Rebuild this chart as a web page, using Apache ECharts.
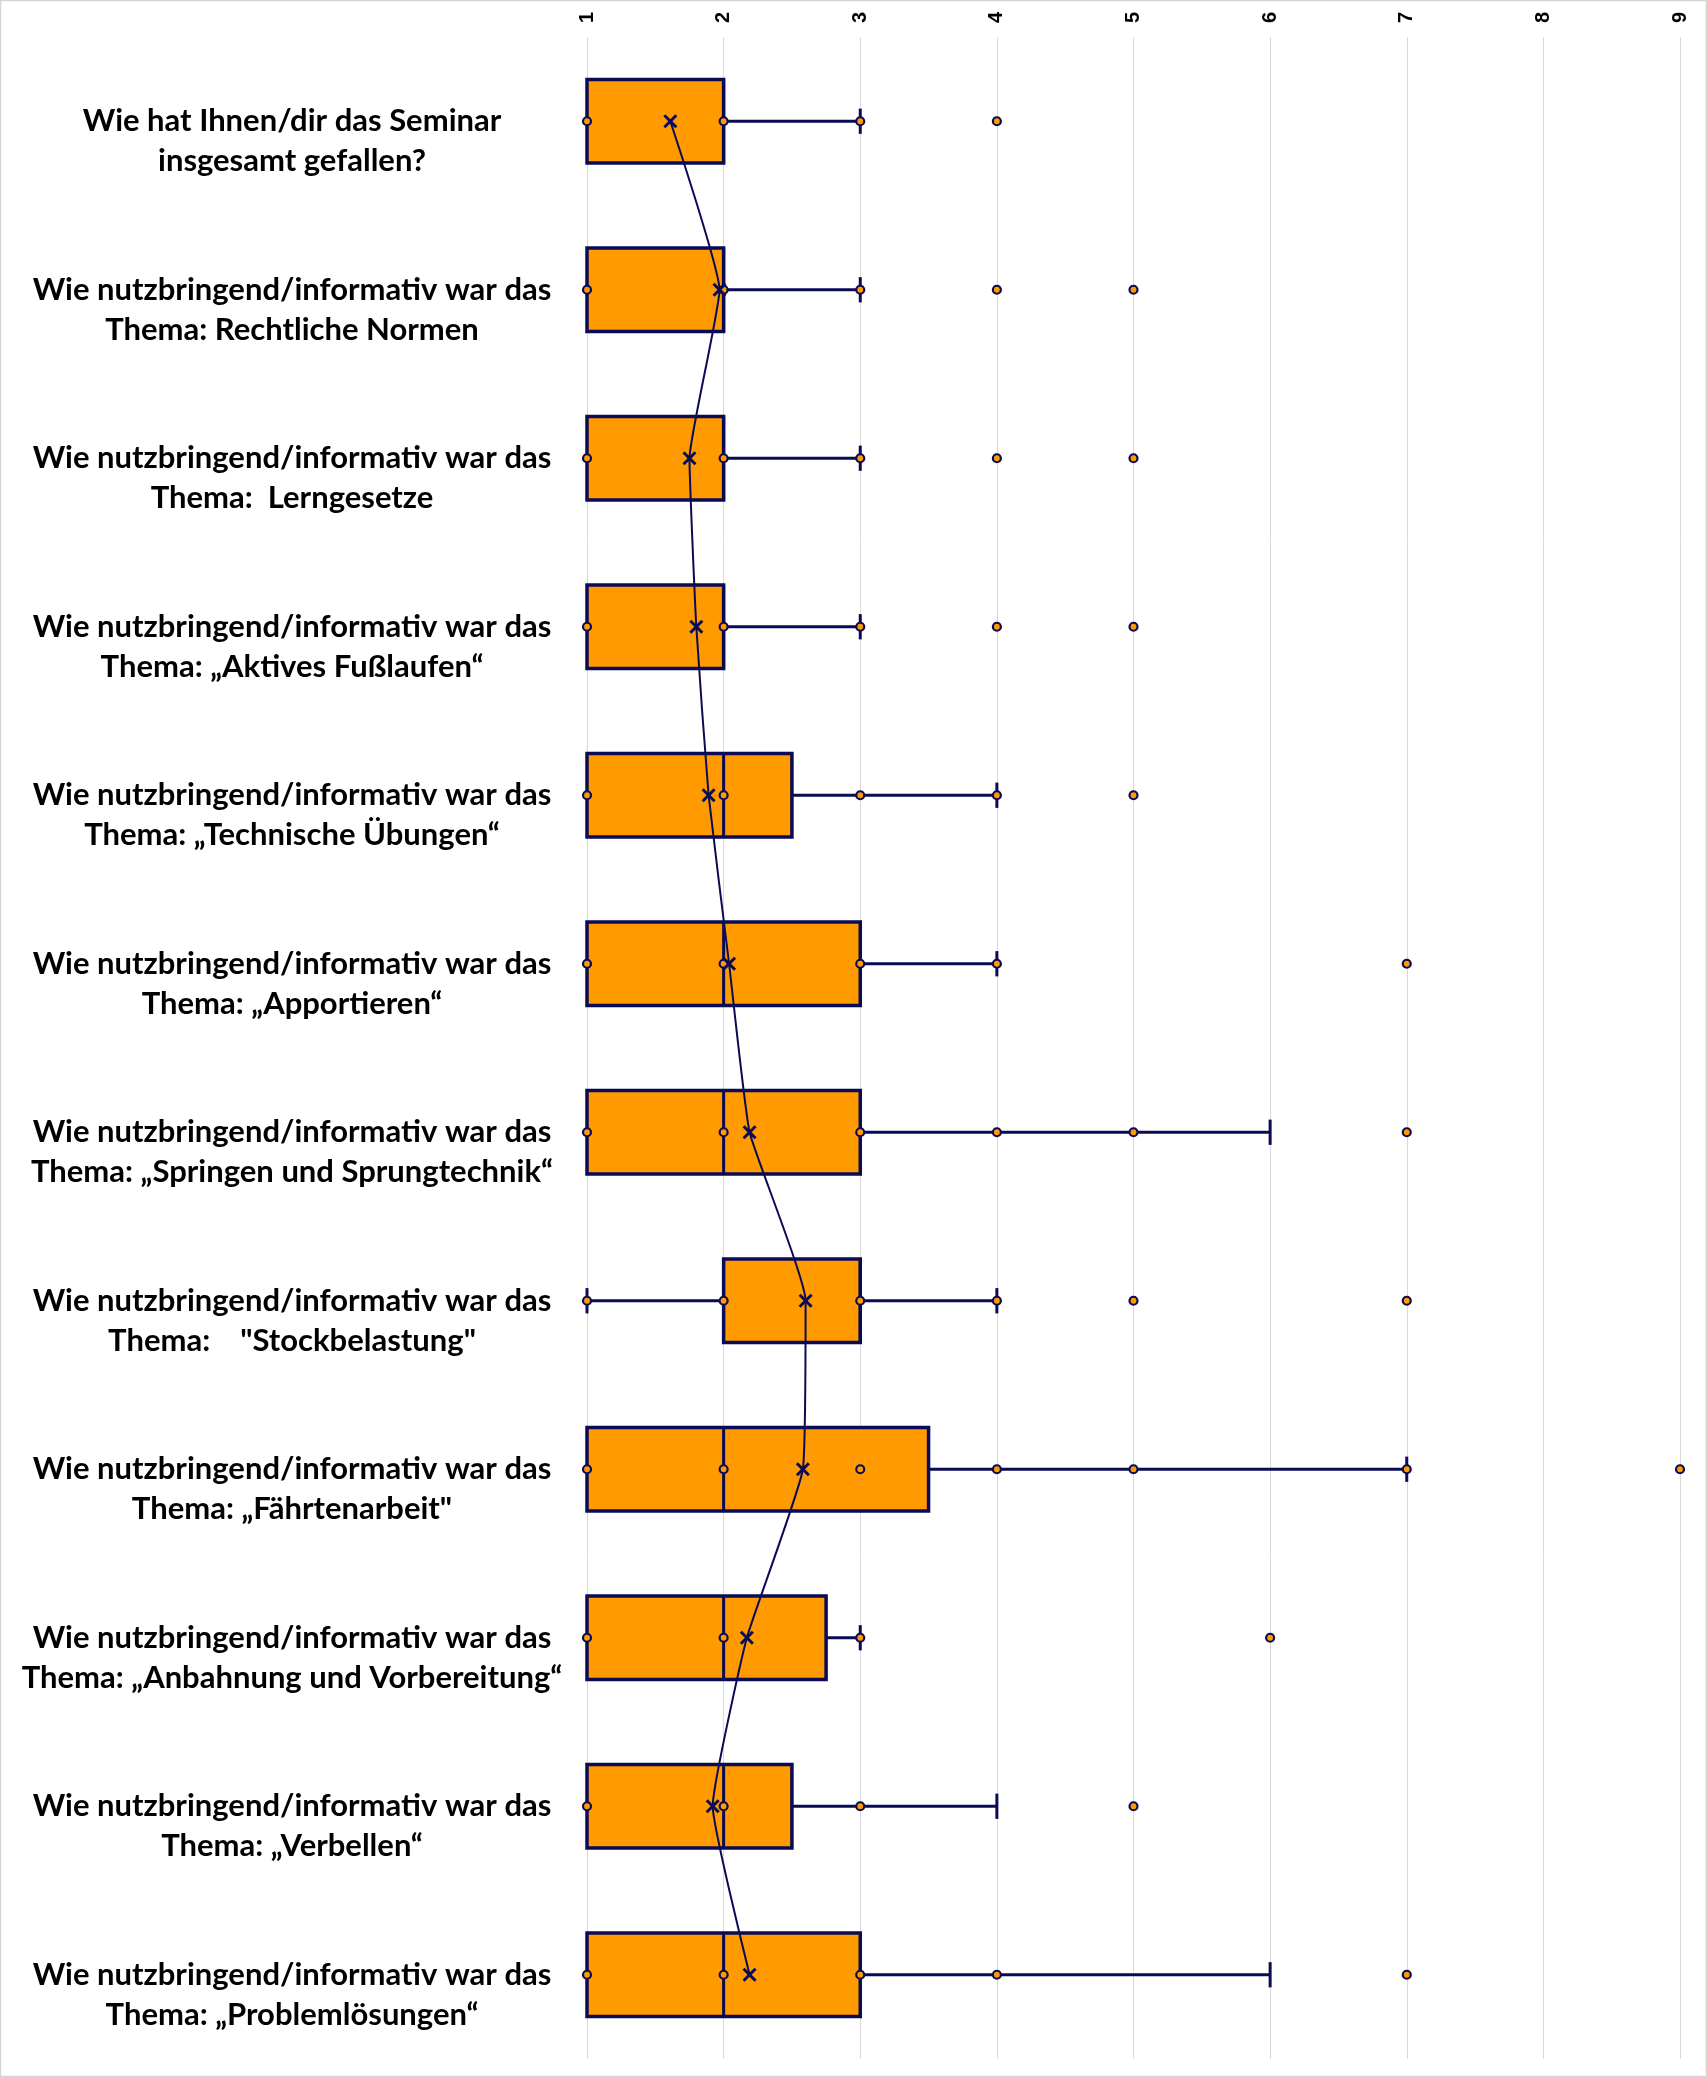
<!DOCTYPE html>
<html>
<head>
<meta charset="utf-8">
<script src="https://cdn.jsdelivr.net/npm/echarts@6/dist/echarts.min.js"></script>
<style>
html,body{margin:0;padding:0;background:#fff;}
#chart{width:1707px;height:2077px;}
</style>
</head>
<body>
<div id="chart"></div>
<script>
const categories = [
  'Wie hat Ihnen/dir das Seminar\ninsgesamt gefallen?',
  'Wie nutzbringend/informativ war das\nThema: Rechtliche Normen',
  'Wie nutzbringend/informativ war das\nThema:  Lerngesetze',
  'Wie nutzbringend/informativ war das\nThema: „Aktives Fußlaufen“',
  'Wie nutzbringend/informativ war das\nThema: „Technische Übungen“',
  'Wie nutzbringend/informativ war das\nThema: „Apportieren“',
  'Wie nutzbringend/informativ war das\nThema: „Springen und Sprungtechnik“',
  'Wie nutzbringend/informativ war das\nThema:    "Stockbelastung"',
  'Wie nutzbringend/informativ war das\nThema: „Fährtenarbeit"',
  'Wie nutzbringend/informativ war das\nThema: „Anbahnung und Vorbereitung“',
  'Wie nutzbringend/informativ war das\nThema: „Verbellen“',
  'Wie nutzbringend/informativ war das\nThema: „Problemlösungen“'
];
const whiskerLow  = [1, 1, 1, 1, 1,   1, 1, 1, 1,   1,    1,   1];
const q1          = [1, 1, 1, 1, 1,   1, 1, 2, 1,   1,    1,   1];
const median      = [2, 2, 2, 2, 2,   2, 2, 3, 2,   2,    2,   2];
const q3          = [2, 2, 2, 2, 2.5, 3, 3, 3, 3.5, 2.75, 2.5, 3];
const whiskerHigh = [3, 3, 3, 3, 4,   4, 6, 4, 7,   3,    4,   6];
const means       = [1.61, 1.97, 1.75, 1.80, 1.89, 2.04, 2.19, 2.60, 2.58, 2.17, 1.92, 2.19];
const innerPoints = [
  [1,2,3], [1,2,3], [1,2,3], [1,2,3], [1,2,3,4], [1,2,3,4],
  [1,2,3,4,5], [1,2,3,4], [1,2,3,4,5,7], [1,2,3], [1,2,3], [1,2,3,4]
];
const outliers = [
  [4], [4,5], [4,5], [4,5], [5], [7], [7], [5,7], [9], [6], [5], [7]
];
const xTicks = [1, 2, 3, 4, 5, 6, 7, 8, 9];

const NAVY = '#0b0b55';
const ORANGE = '#ff9a00';

const boxData = categories.map((c, i) => [i, whiskerLow[i], q1[i], median[i], q3[i], whiskerHigh[i]]);
const meanData = means.map((m, i) => [m, i]);
const pointData = [];
categories.forEach((c, i) => {
  innerPoints[i].forEach(v => pointData.push([v, i]));
  outliers[i].forEach(v => pointData.push([v, i]));
});

const chart = echarts.init(document.getElementById('chart'));
chart.setOption({
  animation: false,
  backgroundColor: '#ffffff',
  graphic: [{
    type: 'rect', shape: {x: 0.5, y: 0.5, width: 1706, height: 2076},
    style: {fill: 'none', stroke: '#d4d4d4', lineWidth: 1.5}, silent: true, z: -10
  }],
  grid: {left: 587, right: 27, top: 37, bottom: 18},
  xAxis: {
    type: 'value', position: 'top', min: 1, max: 9, interval: 1,
    axisLine: {show: false}, axisTick: {show: false},
    splitLine: {show: true, lineStyle: {color: '#d9d9d9', width: 1}},
    axisLabel: {
      rotate: -90, fontSize: 20, fontWeight: 'bold', color: '#000', margin: 14,
      fontFamily: 'Liberation Sans',
      formatter: v => (xTicks.indexOf(v) >= 0 ? String(v) : '')
    }
  },
  yAxis: {
    type: 'category', data: categories, inverse: true,
    axisLine: {show: false}, axisTick: {show: false}, splitLine: {show: false},
    axisLabel: {
      align: 'center', margin: 295, fontSize: 31, fontWeight: 'bold',
      fontFamily: 'Lato', color: '#000', lineHeight: 40,
      formatter: v => '\n' + v
    }
  },
  series: [
    {
      type: 'custom', z: 2,
      data: boxData,
      encode: {y: 0},
      renderItem: function (params, api) {
        const cat = api.value(0);
        const band = api.size([0, 1])[1];
        const bh = band * 0.495;
        const ch = band * 0.15;
        const pLow = api.coord([api.value(1), cat]);
        const pQ1 = api.coord([api.value(2), cat]);
        const pMed = api.coord([api.value(3), cat]);
        const pQ3 = api.coord([api.value(4), cat]);
        const pHigh = api.coord([api.value(5), cat]);
        const y = pQ1[1];
        const ls = {stroke: NAVY, lineWidth: 3};
        const children = [];
        if (api.value(1) < api.value(2)) {
          children.push({type: 'line', shape: {x1: pLow[0], y1: y, x2: pQ1[0], y2: y}, style: ls});
          children.push({type: 'line', shape: {x1: pLow[0], y1: y - ch / 2, x2: pLow[0], y2: y + ch / 2}, style: ls});
        }
        if (api.value(5) > api.value(4)) {
          children.push({type: 'line', shape: {x1: pQ3[0], y1: y, x2: pHigh[0], y2: y}, style: ls});
          children.push({type: 'line', shape: {x1: pHigh[0], y1: y - ch / 2, x2: pHigh[0], y2: y + ch / 2}, style: ls});
        }
        children.push({
          type: 'rect',
          shape: {x: pQ1[0], y: y - bh / 2, width: pQ3[0] - pQ1[0], height: bh},
          style: {fill: ORANGE, stroke: NAVY, lineWidth: 3.5}
        });
        children.push({type: 'line', shape: {x1: pMed[0], y1: y - bh / 2, x2: pMed[0], y2: y + bh / 2}, style: ls});
        return {type: 'group', children: children};
      }
    },
    {
      type: 'line', z: 3,
      data: meanData,
      smooth: 0.12,
      symbol: 'none',
      lineStyle: {color: NAVY, width: 2}
    },
    {
      type: 'scatter', z: 4,
      data: pointData,
      symbol: 'circle', symbolSize: 8,
      itemStyle: {color: ORANGE, borderColor: NAVY, borderWidth: 2.2, opacity: 1}
    },
    {
      type: 'custom', z: 5,
      data: meanData,
      renderItem: function (params, api) {
        const p = api.coord([api.value(0), api.value(1)]);
        const s = 6;
        const st = {stroke: NAVY, lineWidth: 3};
        return {type: 'group', children: [
          {type: 'line', shape: {x1: p[0] - s, y1: p[1] - s, x2: p[0] + s, y2: p[1] + s}, style: st},
          {type: 'line', shape: {x1: p[0] - s, y1: p[1] + s, x2: p[0] + s, y2: p[1] - s}, style: st}
        ]};
      }
    }
  ]
});
</script>
</body>
</html>
